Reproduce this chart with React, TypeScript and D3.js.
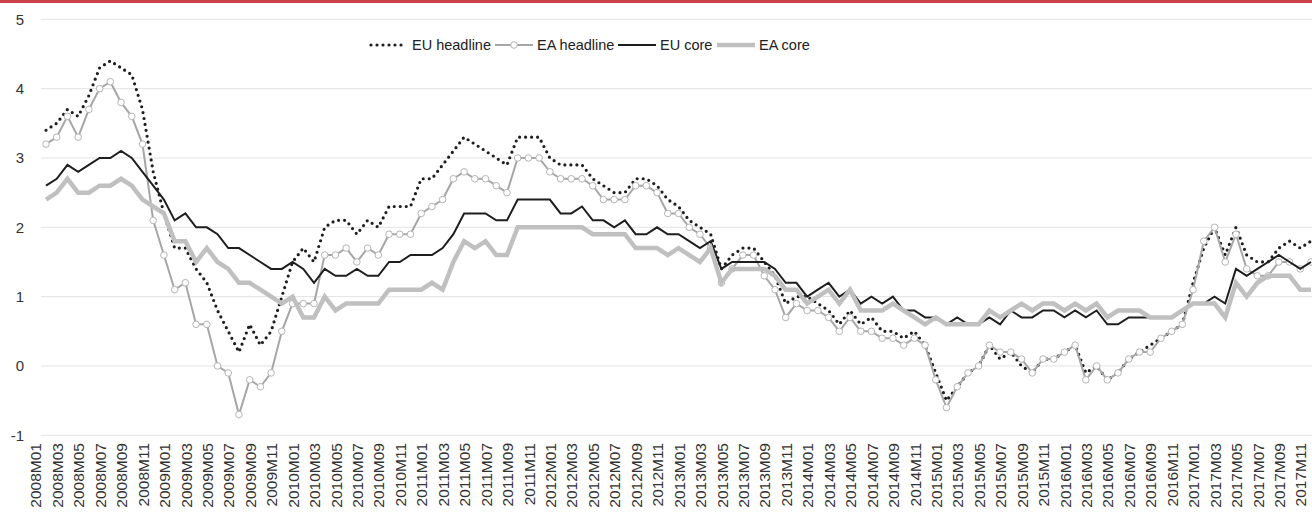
import { line, scaleLinear, scalePoint } from 'd3'

const years = ['2008', '2009', '2010', '2011', '2012', '2013', '2014', '2015', '2016', '2017']
const months = ['M01', 'M02', 'M03', 'M04', 'M05', 'M06', 'M07', 'M08', 'M09', 'M10', 'M11', 'M12']
const categories = years.flatMap((y) => months.map((m) => y + m)).slice(0, 119)

const yTickValues = [-1, 0, 1, 2, 3, 4, 5]

const euHeadline = [
  3.4, 3.5, 3.7, 3.6, 3.9, 4.3, 4.4, 4.3, 4.2, 3.7, 2.8, 2.2,
  1.7, 1.7, 1.4, 1.2, 0.8, 0.5, 0.2, 0.6, 0.3, 0.5, 1.0, 1.5,
  1.7, 1.5, 2.0, 2.1, 2.1, 1.9, 2.1, 2.0, 2.3, 2.3, 2.3, 2.7,
  2.7, 2.9, 3.1, 3.3, 3.2, 3.1, 3.0, 2.9, 3.3, 3.3, 3.3, 3.0,
  2.9, 2.9, 2.9, 2.7, 2.6, 2.5, 2.5, 2.7, 2.7, 2.6, 2.4, 2.3,
  2.1, 2.0, 1.9, 1.4, 1.6, 1.7, 1.7, 1.5, 1.3, 0.9, 1.0, 1.0,
  0.9, 0.8, 0.6, 0.8, 0.6, 0.7, 0.5, 0.5, 0.4, 0.5, 0.3, -0.1,
  -0.5, -0.3, -0.1, 0.0, 0.3, 0.1, 0.2, 0.0, -0.1, 0.1, 0.1, 0.2,
  0.3, -0.1, 0.0, -0.2, -0.1, 0.1, 0.2, 0.3, 0.4, 0.5, 0.6, 1.2,
  1.7, 2.0, 1.6, 2.0, 1.6, 1.5, 1.5, 1.7, 1.8, 1.7, 1.8,
]

const eaHeadline = [
  3.2, 3.3, 3.6, 3.3, 3.7, 4.0, 4.1, 3.8, 3.6, 3.2, 2.1, 1.6,
  1.1, 1.2, 0.6, 0.6, 0.0, -0.1, -0.7, -0.2, -0.3, -0.1, 0.5, 0.9,
  0.9, 0.9, 1.6, 1.6, 1.7, 1.5, 1.7, 1.6, 1.9, 1.9, 1.9, 2.2,
  2.3, 2.4, 2.7, 2.8, 2.7, 2.7, 2.6, 2.5, 3.0, 3.0, 3.0, 2.8,
  2.7, 2.7, 2.7, 2.6, 2.4, 2.4, 2.4, 2.6, 2.6, 2.5, 2.2, 2.2,
  2.0, 1.9, 1.7, 1.2, 1.4, 1.6, 1.6, 1.3, 1.1, 0.7, 0.9, 0.8,
  0.8, 0.7, 0.5, 0.7, 0.5, 0.5, 0.4, 0.4, 0.3, 0.4, 0.3, -0.2,
  -0.6, -0.3, -0.1, 0.0, 0.3, 0.2, 0.2, 0.1, -0.1, 0.1, 0.1, 0.2,
  0.3, -0.2, 0.0, -0.2, -0.1, 0.1, 0.2, 0.2, 0.4, 0.5, 0.6, 1.1,
  1.8, 2.0, 1.5, 1.9, 1.4, 1.3, 1.3, 1.5, 1.5, 1.4, 1.5,
]

const euCore = [
  2.6, 2.7, 2.9, 2.8, 2.9, 3.0, 3.0, 3.1, 3.0, 2.8, 2.6, 2.4,
  2.1, 2.2, 2.0, 2.0, 1.9, 1.7, 1.7, 1.6, 1.5, 1.4, 1.4, 1.5,
  1.4, 1.2, 1.4, 1.3, 1.3, 1.4, 1.3, 1.3, 1.5, 1.5, 1.6, 1.6,
  1.6, 1.7, 1.9, 2.2, 2.2, 2.2, 2.1, 2.1, 2.4, 2.4, 2.4, 2.4,
  2.2, 2.2, 2.3, 2.1, 2.1, 2.0, 2.1, 1.9, 1.9, 2.0, 1.9, 1.9,
  1.8, 1.7, 1.8, 1.4, 1.5, 1.5, 1.5, 1.5, 1.4, 1.2, 1.2, 1.0,
  1.1, 1.2, 1.0, 1.1, 0.9, 1.0, 0.9, 1.0, 0.8, 0.8, 0.7, 0.7,
  0.6, 0.7, 0.6, 0.6, 0.7, 0.6, 0.8, 0.7, 0.7, 0.8, 0.8, 0.7,
  0.8, 0.7, 0.8, 0.6, 0.6, 0.7, 0.7, 0.7, 0.7, 0.7, 0.8, 0.9,
  0.9, 1.0, 0.9, 1.4, 1.3, 1.4, 1.5, 1.6, 1.5, 1.4, 1.5,
]

const eaCore = [
  2.4, 2.5, 2.7, 2.5, 2.5, 2.6, 2.6, 2.7, 2.6, 2.4, 2.3, 2.2,
  1.8, 1.8, 1.5, 1.7, 1.5, 1.4, 1.2, 1.2, 1.1, 1.0, 0.9, 1.0,
  0.7, 0.7, 1.0, 0.8, 0.9, 0.9, 0.9, 0.9, 1.1, 1.1, 1.1, 1.1,
  1.2, 1.1, 1.5, 1.8, 1.7, 1.8, 1.6, 1.6, 2.0, 2.0, 2.0, 2.0,
  2.0, 2.0, 2.0, 1.9, 1.9, 1.9, 1.9, 1.7, 1.7, 1.7, 1.6, 1.7,
  1.6, 1.5, 1.7, 1.2, 1.4, 1.4, 1.4, 1.4, 1.3, 1.1, 1.1, 0.9,
  1.0, 1.1, 0.9, 1.1, 0.8, 0.8, 0.8, 0.9, 0.8, 0.7, 0.6, 0.7,
  0.6, 0.6, 0.6, 0.6, 0.8, 0.7, 0.8, 0.9, 0.8, 0.9, 0.9, 0.8,
  0.9, 0.8, 0.9, 0.7, 0.8, 0.8, 0.8, 0.7, 0.7, 0.7, 0.8, 0.9,
  0.9, 0.9, 0.7, 1.2, 1.0, 1.2, 1.3, 1.3, 1.3, 1.1, 1.1,
]

const width = 1312
const height = 516
const font = 'Arial, "Liberation Sans", sans-serif'

const App = () => {
  const x = scalePoint<string>().domain(categories).range([46, 1311])
  const y = scaleLinear().domain([-1, 5]).range([435.3, 19.3])

  const path = (values: number[]) =>
    line<number>()
      .x((_, i) => x(categories[i]) ?? 0)
      .y((d) => y(d))(values) ?? ''

  const labelTicks = categories.filter((_, i) => i % 2 === 0)

  return (
    <div style={{ position: 'absolute', left: 0, top: 0 }}>
      <svg width={width} height={height} viewBox={`0 0 ${width} ${height}`} style={{ display: 'block', background: '#fff' }}>
        <rect x={0} y={0} width={width} height={3} fill="#c9424b" />

        {yTickValues.map((v) => (
          <g key={v}>
            <line x1={41} x2={width} y1={y(v)} y2={y(v)} stroke="#e3e3e3" strokeWidth={1} />
            <text x={24} y={y(v)} dy="0.35em" textAnchor="end" fontFamily={font} fontSize={15} fill="#333">
              {v}
            </text>
          </g>
        ))}

        {labelTicks.map((c) => (
          <text
            key={c}
            transform={`translate(${(x(c) ?? 0) - 10}, 443) rotate(-90)`}
            textAnchor="end"
            dy="0.35em"
            fontFamily={font}
            fontSize={15.5}
            fill="#333"
          >
            {c}
          </text>
        ))}

        <path d={path(euHeadline)} fill="none" stroke="#1e1e1e" strokeWidth={3.2} strokeDasharray="0 6" strokeLinecap="round" />
        <path d={path(eaHeadline)} fill="none" stroke="#a6a6a6" strokeWidth={2} />
        {eaHeadline.map((d, i) => (
          <circle key={i} cx={x(categories[i])} cy={y(d)} r={3.3} fill="#fff" stroke="#b4b4b4" strokeWidth={1} />
        ))}
        <path d={path(euCore)} fill="none" stroke="#1e1e1e" strokeWidth={2} />
        <path d={path(eaCore)} fill="none" stroke="#c0c0c0" strokeWidth={4.5} />

        <g fontFamily={font} fontSize={14.5} fill="#222">
          <line x1={371} x2={407} y1={45} y2={45} stroke="#1e1e1e" strokeWidth={3.2} strokeDasharray="0 6" strokeLinecap="round" />
          <text x={412} y={45} dy="0.35em">EU headline</text>
          <line x1={495} x2={533} y1={45} y2={45} stroke="#a6a6a6" strokeWidth={2} />
          <circle cx={514} cy={45} r={3.3} fill="#fff" stroke="#b4b4b4" strokeWidth={1} />
          <text x={537} y={45} dy="0.35em">EA headline</text>
          <line x1={618} x2={656} y1={45} y2={45} stroke="#1e1e1e" strokeWidth={2} />
          <text x={660} y={45} dy="0.35em">EU core</text>
          <line x1={717} x2={755} y1={45} y2={45} stroke="#c0c0c0" strokeWidth={4.5} />
          <text x={759} y={45} dy="0.35em">EA core</text>
        </g>
      </svg>
    </div>
  )
}

export default App
